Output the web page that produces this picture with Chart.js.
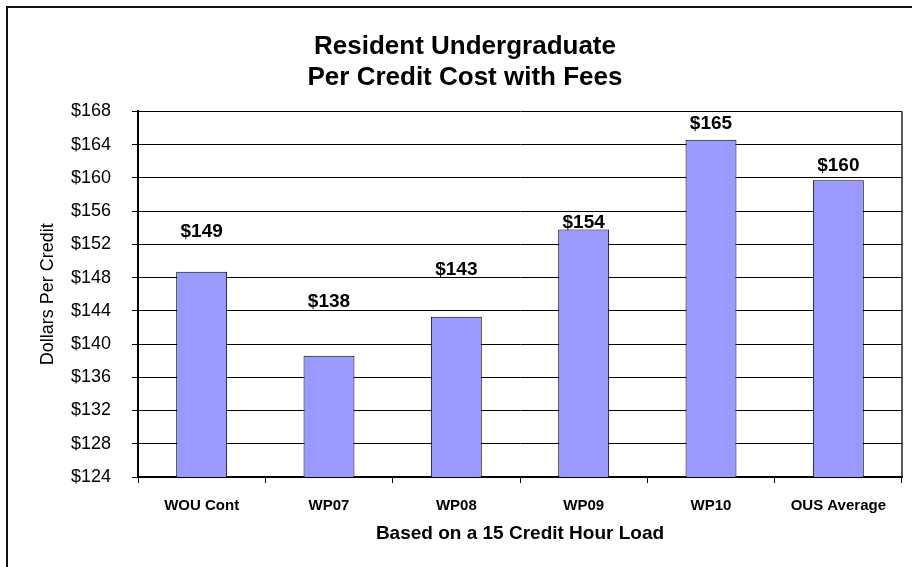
<!DOCTYPE html>
<html>
<head>
<meta charset="utf-8">
<script src="https://cdn.jsdelivr.net/npm/chart.js@4.4.1/dist/chart.umd.min.js"></script>
<style>
  html, body { margin: 0; padding: 0; background: #fff; }
  #wrap { position: relative; width: 912px; height: 567px; overflow: hidden; }
  #frame { position: absolute; left: 6px; top: 6px; width: 1000px; height: 1000px; border: 2px solid #111; box-sizing: border-box; pointer-events: none; }
  canvas { position: absolute; left: 0; top: 0; }
</style>
</head>
<body>
<div id="wrap">
  <canvas id="c" width="912" height="567"></canvas>
  <div id="frame"></div>
</div>
<script>
const categories = ["WOU Cont", "WP07", "WP08", "WP09", "WP10", "OUS Average"];
const values = [148.7, 138.6, 143.3, 153.8, 164.6, 159.7];
const valueLabels = ["$149", "$138", "$143", "$154", "$165", "$160"];
const titleLines = ["Resident Undergraduate", "Per Credit Cost with Fees"];
const yTitle = "Dollars Per Credit";
const xTitle = "Based on a 15 Credit Hour Load";
const yMin = 124, yMax = 168, yStep = 4;

const FONT = "'Liberation Sans', Arial, sans-serif";

const valueLabelPlugin = {
  id: 'valueLabels',
  afterDatasetsDraw(chart, args, opts) {
    const ctx = chart.ctx;
    const meta = chart.getDatasetMeta(0);
    ctx.save();
    ctx.font = "bold 19px " + FONT;
    ctx.fillStyle = "#000";
    ctx.textAlign = "center";
    ctx.textBaseline = "middle";
    meta.data.forEach((bar, i) => {
      ctx.fillText(valueLabels[i], bar.x, bar.y - opts.offsets[i]);
    });
    ctx.restore();
  }
};

const plotBorderPlugin = {
  id: 'plotBorder',
  beforeDatasetsDraw(chart) {
    const { ctx, chartArea: a } = chart;
    ctx.save();
    ctx.strokeStyle = "#222";
    ctx.lineWidth = 1.5;
    ctx.beginPath();
    ctx.moveTo(a.right, a.top);
    ctx.lineTo(a.right, a.bottom);
    ctx.stroke();
    ctx.restore();
  }
};

new Chart(document.getElementById('c'), {
  type: 'bar',
  data: {
    labels: categories,
    datasets: [{
      data: values,
      backgroundColor: '#9999FF',
      borderColor: '#000',
      borderWidth: 1,
      borderSkipped: false,
      categoryPercentage: 1,
      barPercentage: 0.4
    }]
  },
  plugins: [valueLabelPlugin, plotBorderPlugin],
  options: {
    responsive: false,
    animation: false,
    layout: { padding: { left: 28, right: 10, top: 0, bottom: 22 } },
    plugins: {
      legend: { display: false },
      tooltip: { enabled: false },
      title: {
        display: true,
        text: titleLines,
        color: '#000',
        font: { family: FONT, size: 26, weight: 'bold', lineHeight: 1.2 },
        padding: { top: 31, bottom: 18 }
      },
      valueLabels: { offsets: [40, 54, 47, 7, 16, 15] }
    },
    scales: {
      x: {
        grid: { offset: true, drawOnChartArea: false, color: '#000', tickLength: 6, lineWidth: 1 },
        border: { color: '#000', width: 2 },
        ticks: { color: '#000', font: { family: FONT, size: 15, weight: 'bold' }, padding: 14, maxRotation: 0 },
        title: { display: true, text: xTitle, color: '#000', font: { family: FONT, size: 19, weight: 'bold' }, padding: { top: 4, bottom: 0 } },
        afterFit(s) { s.height = 68; }
      },
      y: {
        min: yMin, max: yMax,
        grid: { color: '#000', lineWidth: 1, tickLength: 6 },
        border: { color: '#000', width: 2 },
        ticks: { stepSize: yStep, color: '#000', font: { family: FONT, size: 18 }, padding: 21,
          callback: v => '$' + v },
        title: { display: true, text: yTitle, color: '#000', font: { family: FONT, size: 18 }, padding: { top: 9, bottom: 6 } },
        afterFit(s) { s.width = 110; }
      }
    }
  }
});
</script>
</body>
</html>
